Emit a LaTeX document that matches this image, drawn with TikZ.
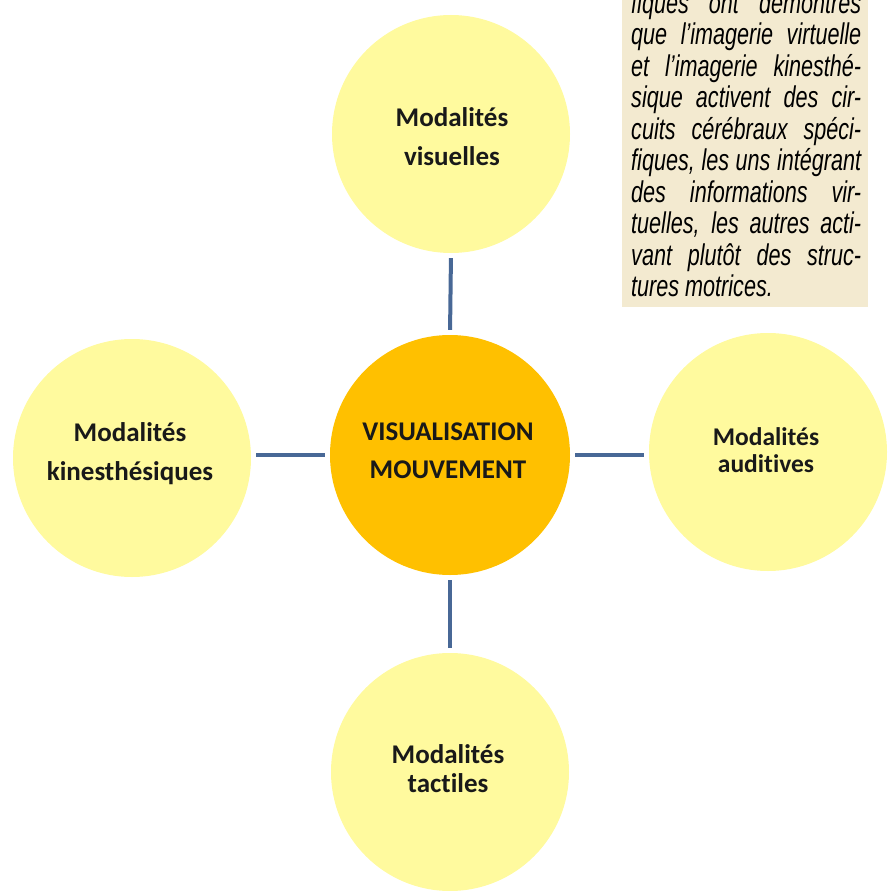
\documentclass[tikz,border=0pt]{standalone}
\usepackage{fontspec}
\setmainfont[Ligatures=NoCommon]{Carlito}
\newfontfamily\boxfont[FakeStretch=0.72]{Liberation Sans}
\definecolor{paleyellow}{RGB}{255,250,158}
\definecolor{gold}{RGB}{255,192,0}
\definecolor{linkblue}{RGB}{72,104,150}
\definecolor{boxbeige}{RGB}{243,234,208}
\tikzset{
  modal/.style={circle, fill=paleyellow, minimum size=238pt, inner sep=0pt},
  central/.style={modal, fill=gold, minimum size=240pt},
  lbl/.style={anchor=base, inner sep=0pt, text=black!90,
    font=\bfseries\fontsize{27pt}{32pt}\selectfont},
  lblsmall/.style={lbl, font=\bfseries\fontsize{25.5pt}{30pt}\selectfont},
  link/.style={draw=linkblue, line width=4pt, shorten <=5pt, shorten >=5pt}
}
\begin{document}
\begin{tikzpicture}[x=1pt,y=-1pt]
\useasboundingbox (0,0) rectangle (895,891);
\clip (0,0) rectangle (895,891);
% text box
\fill[boxbeige] (622,-20) rectangle (868,307);
\node[anchor=base west, inner sep=0pt] (txt) at (631,13.5) {\parbox[t]{230pt}{%
  \boxfont\itshape\fontsize{30pt}{31.5pt}\selectfont
  \makebox[\linewidth][s]{fiques ont démontrés}\\
  \makebox[\linewidth][s]{que l’imagerie virtuelle}\\
  \makebox[\linewidth][s]{et l’imagerie kinesthé-}\\
  \makebox[\linewidth][s]{sique activent des cir-}\\
  \makebox[\linewidth][s]{cuits cérébraux spéci-}\\
  \makebox[\linewidth][s]{fiques, les uns intégrant}\\
  \makebox[\linewidth][s]{des informations vir-}\\
  \makebox[\linewidth][s]{tuelles, les autres acti-}\\
  \makebox[\linewidth][s]{vant plutôt des struc-}\\
  tures motrices.}};
% circles
\node[central] (ctr) at (450,455) {};
\node[modal] (top) at (451,134) {};
\node[modal] (lft) at (132,458) {};
\node[modal] (rgt) at (768,452) {};
\node[modal] (bot) at (450,772) {};
% labels
\node[lbl] (ctr1) at (448,440) {VISUALISATION};
\node[lbl] (ctr2) at (448,478) {MOUVEMENT};
\node[lbl] (top1) at (452,127) {Modalités};
\node[lbl] (top2) at (452,165) {visuelles};
\node[lbl] (lft1) at (130,441) {Modalités};
\node[lbl] (lft2) at (130,480) {kinesthésiques};
\node[lblsmall] (rgt1) at (766,445) {Modalités};
\node[lblsmall] (rgt2) at (766,472) {auditives};
\node[lbl] (bot1) at (448,763) {Modalités};
\node[lbl] (bot2) at (448,792) {tactiles};
% connectors
\draw[link] (ctr.north) -- (top.south);
\draw[link] (ctr.south) -- (bot.north);
\draw[link] (ctr.west) -- (ctr.west -| lft.east);
\draw[link] (ctr.east) -- (ctr.east -| rgt.west);
\end{tikzpicture}
\end{document}
